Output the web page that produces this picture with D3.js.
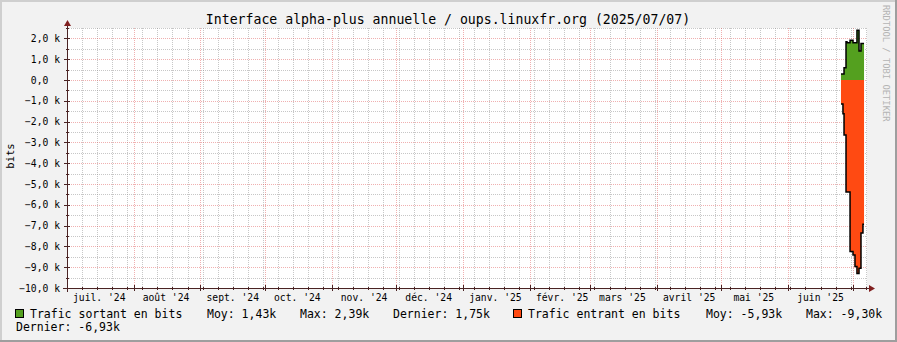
<!DOCTYPE html>
<html>
<head>
<meta charset="utf-8">
<script src="https://cdn.jsdelivr.net/npm/d3@7"></script>
<style>
  body { margin: 0; background: #f2f2f2; }
  svg { display: block; font-family: "DejaVu Sans Mono", monospace; }
</style>
</head>
<body>
<div id="chart"></div>
<script>
// valeurs (bits)
const titre = "Interface alpha-plus annuelle / oups.linuxfr.org (2025/07/07)";
const uniteY = "bits";
const filigrane = "RRDTOOL / TOBI OETIKER";

const moisLabels = ["juil. '24", "août '24", "sept. '24", "oct. '24", "nov. '24", "déc. '24",
                    "janv. '25", "févr. '25", "mars '25", "avril '25", "mai '25", "juin '25"];
const yTicks = [-10000, -9000, -8000, -7000, -6000, -5000, -4000, -3000, -2000, -1000, 0, 1000, 2000];

// bornes des pas de temps (le dernier est la fin du dernier pas)
const bornes = ["2025-06-25T12:00", "2025-06-26T10:00", "2025-06-26T22:00", "2025-06-27T20:00",
                "2025-06-28T07:00", "2025-06-29T17:00", "2025-07-01T02:00", "2025-07-02T00:00",
                "2025-07-02T22:00", "2025-07-03T21:00", "2025-07-04T19:00", "2025-07-05T17:00",
                "2025-07-06T05:00"];
const sortant = [290, 290, 590, 1840, 1790, 1910, 1790, 1790, 2390, 1390, 1750, 1750];
const entrant = [-1150, -1620, -2640, -5380, -5380, -8250, -8410, -8970, -9300, -9050, -7350, -6930];

const series = ["Trafic sortant en bits", "Trafic entrant en bits"];
const statNoms = ["Moy", "Max", "Dernier"];
const statsSortant = ["1,43k", "2,39k", "1,75k"];
const statsEntrant = ["-5,93k", "-9,30k", "-6,93k"];

const W = 897, H = 342;
const gauche = 67, droite = 867, haut = 28, bas = 288;
const vert = "#54a01f", orange = "#ff4a12";
const axisCol = "#4a2323", arrowCol = "#801f1f";
const gridCol = "rgba(143,143,143,0.5)", mgridCol = "rgba(222,79,79,0.45)";

const parse = d3.timeParse("%Y-%m-%dT%H:%M");
const t0 = new Date(2024, 6, 1), t1 = new Date(2025, 6, 7, 14);

const x = d3.scaleTime().domain([t0, t1]).range([gauche, droite]);
const y = d3.scaleLinear().domain([-10000, 2500]).range([bas, haut]);

const svg = d3.select("#chart").append("svg")
    .attr("width", W).attr("height", H);

svg.append("rect").attr("width", W).attr("height", H).attr("fill", "#f2f2f2");
svg.append("rect")
    .attr("x", gauche).attr("y", haut)
    .attr("width", droite - gauche).attr("height", bas - haut)
    .attr("fill", "#fff");

const grid = svg.append("g").attr("shape-rendering", "crispEdges");
const py = v => Math.round(y(v)) + 0.5;
const px = d => Math.round(x(d)) + 0.5;

// grille secondaire
const minorY = d3.range(-10000, 2501, 500).filter(v => v % 1000 !== 0);
grid.selectAll(".hmin").data(minorY).enter().append("line")
    .attr("x1", gauche).attr("x2", droite)
    .attr("y1", py).attr("y2", py)
    .attr("stroke", gridCol).attr("stroke-dasharray", "1,1");

const semaines = d3.timeMonday.range(d3.timeDay.offset(t0, 1), t1);
grid.selectAll(".vmin").data(semaines).enter().append("line")
    .attr("x1", px).attr("x2", px)
    .attr("y1", haut).attr("y2", bas)
    .attr("stroke", gridCol).attr("stroke-dasharray", "1,1");

// grille principale
grid.selectAll(".hmaj").data(yTicks).enter().append("line")
    .attr("x1", gauche).attr("x2", droite)
    .attr("y1", py).attr("y2", py)
    .attr("stroke", mgridCol).attr("stroke-dasharray", "1,1");

const mois = d3.timeMonth.range(d3.timeDay.offset(t0, 1), t1);
grid.selectAll(".vmaj").data(mois).enter().append("line")
    .attr("x1", px).attr("x2", px)
    .attr("y1", haut).attr("y2", bas)
    .attr("stroke", mgridCol).attr("stroke-dasharray", "1,1");

// données en escalier
const pts = vals => bornes.map((b, i) => ({ t: parse(b), v: vals[Math.min(i, vals.length - 1)] }));

const area = d3.area()
    .curve(d3.curveStepAfter)
    .x(d => x(d.t)).y0(y(0)).y1(d => y(d.v));
const line = d3.line()
    .curve(d3.curveStepAfter)
    .x(d => x(d.t)).y(d => y(d.v));

[[sortant, vert], [entrant, orange]].forEach(([vals, col]) => {
    const p = pts(vals);
    svg.append("path").attr("d", area(p)).attr("fill", col);
    svg.append("path").attr("d", line(p))
        .attr("fill", "none").attr("stroke", "#000").attr("stroke-width", 1.5);
});

// axes
const ax = svg.append("g").attr("shape-rendering", "crispEdges");
ax.append("line").attr("x1", gauche - 4).attr("x2", droite + 3)
    .attr("y1", bas + 0.5).attr("y2", bas + 0.5).attr("stroke", axisCol);
ax.append("line").attr("x1", gauche + 0.5).attr("x2", gauche + 0.5)
    .attr("y1", bas + 4).attr("y2", 24).attr("stroke", axisCol);

ax.selectAll(".ty").data(yTicks).enter().append("line")
    .attr("x1", gauche - 3).attr("x2", gauche + 3)
    .attr("y1", py).attr("y2", py)
    .attr("stroke", axisCol);
ax.selectAll(".tymin").data(minorY).enter().append("line")
    .attr("x1", gauche - 1).attr("x2", gauche + 2)
    .attr("y1", py).attr("y2", py)
    .attr("stroke", axisCol);
ax.selectAll(".tx").data(mois).enter().append("line")
    .attr("x1", px).attr("x2", px)
    .attr("y1", bas - 3).attr("y2", bas + 3)
    .attr("stroke", axisCol);
ax.selectAll(".txmin").data(semaines).enter().append("line")
    .attr("x1", px).attr("x2", px)
    .attr("y1", bas - 1).attr("y2", bas + 2)
    .attr("stroke", axisCol);

svg.append("path").attr("d", `M${gauche - 3},26 L${gauche + 0.5},20 L${gauche + 4},26 Z`).attr("fill", arrowCol);
svg.append("path").attr("d", `M${droite + 2},${bas - 3} L${droite + 8},${bas + 0.5} L${droite + 2},${bas + 4} Z`).attr("fill", arrowCol);

// étiquettes
const fmtY = v => v === 0 ? "0,0  " : d3.format(".1f")(v / 1000).replace(".", ",") + " k";
svg.selectAll(".ly").data(yTicks).enter().append("text")
    .attr("x", 60).attr("y", d => y(d) + 3.5)
    .attr("text-anchor", "end")
    .style("white-space", "pre")
    .attr("font-size", "9.7px")
    .text(fmtY);

svg.selectAll(".lx").data(moisLabels).enter().append("text")
    .attr("x", (d, i) => x(d3.timeDay.offset(d3.timeMonth.offset(t0, i), 15)))
    .attr("y", 300.5)
    .attr("text-anchor", "middle")
    .attr("font-size", "9.7px")
    .text(d => d);

svg.append("text")
    .attr("x", 448).attr("y", 24)
    .attr("text-anchor", "middle")
    .attr("font-size", "13.2px")
    .text(titre);

svg.append("text")
    .attr("transform", "translate(14,156) rotate(-90)")
    .attr("text-anchor", "middle")
    .attr("font-size", "10.5px")
    .text(uniteY);

svg.append("text")
    .attr("transform", "translate(883,5) rotate(90)")
    .attr("font-size", "8.8px")
    .attr("fill", "#b4b4b4")
    .text(filigrane);

// légende
const leg = svg.append("g").attr("font-size", "11.5px").style("white-space", "pre");
const ligne = (texts, xs, yy) => texts.forEach((s, i) =>
    leg.append("text").attr("x", xs[i]).attr("y", yy).text(s));

leg.append("rect").attr("x", 15.5).attr("y", 309.5).attr("width", 8).attr("height", 8)
    .attr("fill", vert).attr("stroke", "#000");
ligne([series[0]].concat(statNoms.map((n, i) => n + ": " + statsSortant[i])),
      [30, 207, 300, 393], 317.5);

leg.append("rect").attr("x", 513.5).attr("y", 309.5).attr("width", 8).attr("height", 8)
    .attr("fill", orange).attr("stroke", "#000");
ligne([series[1]].concat(statNoms.slice(0, 2).map((n, i) => n + ": " + statsEntrant[i])),
      [528, 706, 806], 317.5);
ligne([statNoms[2] + ": " + statsEntrant[2]], [16], 331);

// bordure
const bord = svg.append("g").attr("shape-rendering", "crispEdges");
bord.append("rect").attr("x", 0).attr("y", 0).attr("width", W).attr("height", 2).attr("fill", "#cfcfcf");
bord.append("rect").attr("x", 0).attr("y", 0).attr("width", 2).attr("height", H).attr("fill", "#cfcfcf");
bord.append("rect").attr("x", 0).attr("y", H - 2).attr("width", W).attr("height", 2).attr("fill", "#9e9e9e");
bord.append("rect").attr("x", W - 2).attr("y", 0).attr("width", 2).attr("height", H).attr("fill", "#9e9e9e");
</script>
</body>
</html>
